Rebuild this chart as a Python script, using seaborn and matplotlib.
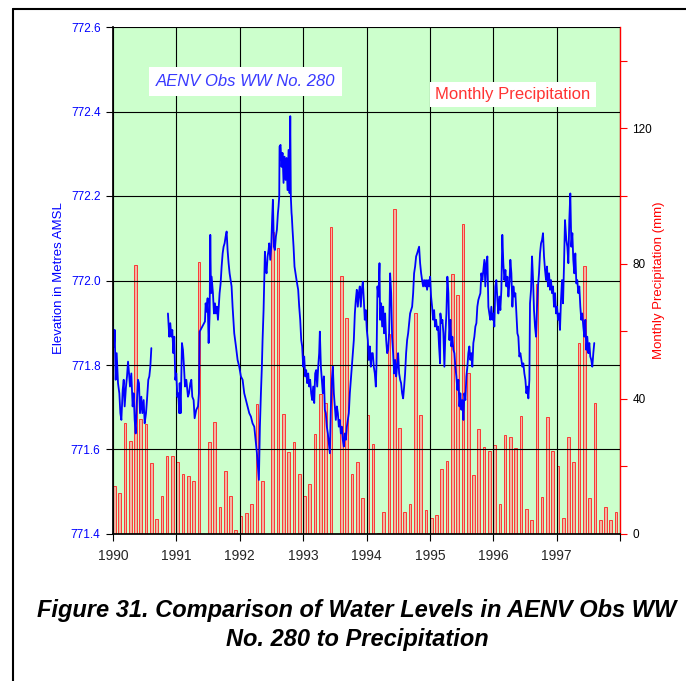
import numpy as np
import pandas as pd
import matplotlib
matplotlib.use('Agg')
import matplotlib.pyplot as plt
import seaborn as sns
from matplotlib.lines import Line2D

# --- data ---
# monthly precipitation (mm), Jan 1990 .. Dec 1997
precip_1990 = [14.2, 12.0, 32.7, 27.6, 79.7, 34.1, 32.4, 20.9, 4.3, 11.3, 23.2, 23.2]
precip_1991 = [21.2, 17.8, 17.3, 15.6, 80.6, 0.0, 27.2, 33.2, 7.9, 18.7, 11.3, 1.2]
precip_1992 = [5.3, 6.3, 8.9, 38.5, 15.6, 0.0, 89.4, 84.7, 35.5, 24.3, 27.2, 17.8]
precip_1993 = [11.3, 14.8, 29.6, 41.4, 38.7, 90.9, 0.0, 76.2, 63.8, 17.8, 21.2, 10.6]
precip_1994 = [35.3, 26.7, 0.4, 6.4, 59.3, 96.1, 31.3, 6.4, 8.9, 65.4, 35.3, 7.2]
precip_1995 = [4.7, 5.7, 19.2, 21.7, 77.0, 70.7, 91.7, 47.6, 17.5, 31.0, 25.7, 24.6]
precip_1996 = [26.2, 8.8, 29.3, 28.6, 25.4, 34.9, 7.3, 4.1, 74.0, 10.9, 34.7, 24.7]
precip_1997 = [20.2, 4.7, 28.6, 21.2, 56.5, 79.4, 10.6, 38.8, 4.0, 8.1, 4.1, 6.6]
years = [1990, 1991, 1992, 1993, 1994, 1995, 1996, 1997]

# water level record (decimal year, m AMSL); first run ends mid-1990 (gap in record)
run1 = [(1990.000, 771.891), (1990.016, 771.844), (1990.027, 771.883), (1990.042, 771.765),
        (1990.058, 771.828), (1990.079, 771.757), (1990.100, 771.733), (1990.116, 771.686),
        (1990.132, 771.670), (1990.153, 771.741), (1990.169, 771.765), (1990.184, 771.702),
        (1990.205, 771.749), (1990.221, 771.773), (1990.237, 771.808), (1990.253, 771.780),
        (1990.268, 771.749), (1990.289, 771.780), (1990.310, 771.702), (1990.326, 771.733),
        (1990.342, 771.670), (1990.358, 771.638), (1990.373, 771.702), (1990.394, 771.765),
        (1990.410, 771.757), (1990.426, 771.686), (1990.447, 771.725), (1990.463, 771.686),
        (1990.484, 771.717), (1990.500, 771.662), (1990.521, 771.686), (1990.536, 771.717),
        (1990.557, 771.765), (1990.573, 771.773), (1990.589, 771.796), (1990.605, 771.840)]

run2 = [(1990.867, 771.922), (1990.888, 771.867), (1990.904, 771.899), (1990.920, 771.867),
        (1990.936, 771.883), (1990.952, 771.828), (1990.967, 771.867), (1990.983, 771.765),
        (1990.999, 771.780), (1991.015, 771.725), (1991.030, 771.733), (1991.046, 771.686),
        (1991.052, 771.757), (1991.067, 771.686), (1991.088, 771.852), (1991.104, 771.836),
        (1991.120, 771.796), (1991.136, 771.749), (1991.157, 771.765), (1991.183, 771.725),
        (1991.199, 771.733), (1991.220, 771.757), (1991.236, 771.765), (1991.251, 771.725),
        (1991.272, 771.717), (1991.288, 771.674), (1991.314, 771.694), (1991.341, 771.702),
        (1991.356, 771.733), (1991.367, 771.879), (1991.451, 771.903), (1991.462, 771.946),
        (1991.477, 771.926), (1991.493, 771.958), (1991.509, 771.852), (1991.525, 771.922),
        (1991.535, 772.108), (1991.546, 771.970), (1991.556, 772.009), (1991.577, 771.970),
        (1991.593, 771.922), (1991.609, 771.946), (1991.624, 771.922), (1991.640, 771.938),
        (1991.656, 771.907), (1991.672, 771.946), (1991.682, 771.970), (1991.698, 771.993),
        (1991.714, 772.033), (1991.730, 772.064), (1991.745, 772.080), (1991.761, 772.088),
        (1991.777, 772.104), (1991.793, 772.116), (1991.808, 772.072), (1991.824, 772.041),
        (1991.840, 772.017), (1991.856, 772.001), (1991.871, 771.986), (1991.887, 771.938),
        (1991.913, 771.875), (1991.940, 771.844), (1991.966, 771.812), (1991.992, 771.796),
        (1992.018, 771.773), (1992.045, 771.765), (1992.071, 771.733), (1992.097, 771.717),
        (1992.123, 771.702), (1992.150, 771.686), (1992.176, 771.678), (1992.202, 771.662),
        (1992.229, 771.654), (1992.255, 771.615), (1992.271, 771.591), (1992.286, 771.559),
        (1992.302, 771.528), (1992.318, 771.654), (1992.334, 771.733), (1992.349, 771.796),
        (1992.360, 771.859), (1992.376, 771.930), (1992.386, 772.001), (1992.397, 772.068),
        (1992.407, 772.033), (1992.423, 772.017), (1992.439, 772.057), (1992.455, 772.072),
        (1992.465, 772.088), (1992.481, 772.049), (1992.497, 772.080), (1992.512, 772.151),
        (1992.523, 772.191), (1992.539, 772.080), (1992.554, 772.072), (1992.570, 772.104),
        (1992.586, 772.120), (1992.602, 772.159), (1992.612, 772.175), (1992.623, 772.199),
        (1992.628, 772.317), (1992.644, 772.321), (1992.660, 772.269), (1992.675, 772.302),
        (1992.691, 772.231), (1992.707, 772.293), (1992.723, 772.238), (1992.738, 772.290),
        (1992.754, 772.214), (1992.770, 772.309), (1992.786, 772.207), (1992.797, 772.389),
        (1992.806, 772.198), (1992.817, 772.160), (1992.822, 772.151), (1992.833, 772.120),
        (1992.849, 772.080), (1992.864, 772.033), (1992.880, 772.017), (1992.896, 772.001),
        (1992.922, 771.978), (1992.938, 771.938), (1992.954, 771.907), (1992.970, 771.859),
        (1992.985, 771.844), (1993.001, 771.796), (1993.017, 771.820), (1993.033, 771.773),
        (1993.048, 771.788), (1993.064, 771.757), (1993.080, 771.780), (1993.096, 771.749),
        (1993.111, 771.765), (1993.127, 771.733), (1993.143, 771.717), (1993.159, 771.749),
        (1993.175, 771.710), (1993.190, 771.780), (1993.206, 771.788), (1993.222, 771.749),
        (1993.238, 771.796), (1993.253, 771.828), (1993.264, 771.879), (1993.280, 771.796),
        (1993.295, 771.765), (1993.311, 771.733), (1993.327, 771.773), (1993.343, 771.694),
        (1993.358, 771.686), (1993.374, 771.654), (1993.390, 771.638), (1993.406, 771.615),
        (1993.422, 771.591), (1993.437, 771.694), (1993.453, 771.765), (1993.469, 771.796),
        (1993.485, 771.733), (1993.500, 771.702), (1993.516, 771.670), (1993.532, 771.702),
        (1993.548, 771.686), (1993.563, 771.654), (1993.579, 771.670), (1993.595, 771.638),
        (1993.611, 771.654), (1993.626, 771.623), (1993.642, 771.607), (1993.658, 771.638),
        (1993.674, 771.623), (1993.690, 771.654), (1993.705, 771.670), (1993.721, 771.686),
        (1993.737, 771.733), (1993.753, 771.765), (1993.768, 771.796), (1993.784, 771.828),
        (1993.800, 771.859), (1993.816, 771.922), (1993.831, 771.954), (1993.847, 771.978),
        (1993.863, 771.938), (1993.879, 771.970), (1993.894, 771.986), (1993.910, 771.938),
        (1993.926, 771.978), (1993.942, 771.997), (1993.958, 771.954), (1993.973, 771.907),
        (1993.989, 771.930), (1994.005, 771.883), (1994.021, 771.859), (1994.036, 771.812),
        (1994.052, 771.844), (1994.068, 771.796), (1994.084, 771.828), (1994.099, 771.828),
        (1994.115, 771.796), (1994.131, 771.780), (1994.147, 771.749), (1994.157, 771.796),
        (1994.173, 771.986), (1994.189, 771.962), (1994.205, 772.041), (1994.215, 771.907),
        (1994.231, 771.946), (1994.247, 771.891), (1994.263, 771.938), (1994.278, 771.875),
        (1994.294, 771.922), (1994.310, 771.859), (1994.326, 771.828), (1994.341, 771.836),
        (1994.357, 771.875), (1994.373, 772.017), (1994.389, 771.970), (1994.404, 771.867),
        (1994.420, 771.828), (1994.436, 771.780), (1994.452, 771.812), (1994.468, 771.773),
        (1994.483, 771.796), (1994.499, 771.828), (1994.515, 771.780), (1994.531, 771.765),
        (1994.546, 771.757), (1994.562, 771.733), (1994.578, 771.721), (1994.594, 771.749),
        (1994.609, 771.780), (1994.625, 771.828), (1994.641, 771.859), (1994.657, 771.875),
        (1994.672, 771.899), (1994.688, 771.922), (1994.704, 771.930), (1994.720, 771.938),
        (1994.736, 771.970), (1994.751, 772.017), (1994.767, 772.033), (1994.783, 772.057),
        (1994.799, 772.064), (1994.814, 772.072), (1994.830, 772.080), (1994.846, 772.041),
        (1994.862, 772.017), (1994.877, 772.001), (1994.893, 771.986), (1994.909, 772.001),
        (1994.925, 771.986), (1994.940, 772.001), (1994.956, 771.978), (1994.972, 772.001),
        (1994.988, 771.986), (1995.004, 772.009), (1995.019, 771.962), (1995.035, 771.938),
        (1995.051, 771.907), (1995.067, 771.930), (1995.082, 771.891), (1995.098, 771.907),
        (1995.114, 771.883), (1995.130, 771.891), (1995.145, 771.844), (1995.161, 771.804),
        (1995.166, 771.922), (1995.182, 771.899), (1995.198, 771.907), (1995.213, 771.875),
        (1995.229, 771.796), (1995.245, 771.875), (1995.261, 771.922), (1995.276, 772.009),
        (1995.292, 771.970), (1995.308, 771.859), (1995.324, 771.907), (1995.339, 771.844),
        (1995.355, 771.867), (1995.371, 771.836), (1995.387, 771.828), (1995.402, 771.796),
        (1995.418, 771.773), (1995.434, 771.741), (1995.450, 771.765), (1995.466, 771.702),
        (1995.481, 771.733), (1995.497, 771.694), (1995.513, 771.717), (1995.529, 771.670),
        (1995.544, 771.733), (1995.560, 771.717), (1995.576, 771.773), (1995.592, 771.796),
        (1995.607, 771.828), (1995.623, 771.844), (1995.639, 771.812), (1995.655, 771.828),
        (1995.670, 771.796), (1995.686, 771.852), (1995.702, 771.867), (1995.718, 771.891),
        (1995.734, 771.899), (1995.749, 771.938), (1995.765, 771.954), (1995.781, 771.962),
        (1995.797, 771.970), (1995.812, 772.017), (1995.828, 772.001), (1995.844, 772.025),
        (1995.860, 772.049), (1995.875, 771.986), (1995.891, 772.041), (1995.907, 772.057),
        (1995.923, 771.938), (1995.938, 771.922), (1995.954, 771.907), (1995.970, 771.938),
        (1995.986, 771.907), (1996.002, 771.922), (1996.017, 771.891), (1996.033, 771.986),
        (1996.049, 772.001), (1996.065, 771.954), (1996.080, 771.922), (1996.096, 771.962),
        (1996.112, 771.930), (1996.128, 771.978), (1996.143, 772.108), (1996.159, 772.041),
        (1996.176, 772.001), (1996.192, 772.025), (1996.207, 771.986), (1996.223, 772.009),
        (1996.239, 771.962), (1996.255, 771.993), (1996.270, 772.049), (1996.286, 772.017),
        (1996.302, 771.938), (1996.318, 771.986), (1996.333, 771.962), (1996.349, 771.970),
        (1996.365, 771.922), (1996.381, 771.875), (1996.396, 771.867), (1996.412, 771.820),
        (1996.428, 771.828), (1996.444, 771.812), (1996.460, 771.796), (1996.475, 771.804),
        (1996.491, 771.780), (1996.507, 771.765), (1996.523, 771.733), (1996.538, 771.749),
        (1996.554, 771.721), (1996.570, 771.765), (1996.580, 771.946), (1996.596, 771.978),
        (1996.612, 772.057), (1996.628, 772.001), (1996.643, 771.930), (1996.659, 771.891),
        (1996.675, 771.867), (1996.691, 771.938), (1996.706, 771.986), (1996.722, 772.017),
        (1996.738, 772.064), (1996.754, 772.088), (1996.770, 772.096), (1996.785, 772.112),
        (1996.801, 772.057), (1996.817, 772.025), (1996.833, 772.001), (1996.848, 772.033),
        (1996.864, 771.986), (1996.880, 772.017), (1996.896, 771.978), (1996.911, 772.001),
        (1996.927, 771.970), (1996.943, 771.986), (1996.959, 771.938), (1996.975, 771.970),
        (1996.990, 771.922), (1997.006, 771.938), (1997.022, 771.907), (1997.038, 771.922),
        (1997.053, 771.883), (1997.069, 771.954), (1997.085, 772.001), (1997.101, 771.946),
        (1997.116, 772.033), (1997.132, 772.143), (1997.153, 772.096), (1997.169, 772.080),
        (1997.185, 772.041), (1997.200, 772.143), (1997.216, 772.206), (1997.232, 772.080),
        (1997.248, 772.112), (1997.263, 772.049), (1997.279, 772.017), (1997.295, 772.064),
        (1997.311, 771.993), (1997.326, 772.001), (1997.342, 771.970), (1997.358, 771.986),
        (1997.374, 771.938), (1997.389, 771.907), (1997.405, 771.922), (1997.421, 771.891),
        (1997.437, 771.867), (1997.453, 771.907), (1997.468, 771.836), (1997.484, 771.867),
        (1997.500, 771.828), (1997.516, 771.852), (1997.531, 771.820), (1997.547, 771.812),
        (1997.563, 771.796), (1997.579, 771.828), (1997.594, 771.852)]

# --- build frames ---
precip = (precip_1990 + precip_1991 + precip_1992 + precip_1993 +
          precip_1994 + precip_1995 + precip_1996 + precip_1997)
month_start = np.array([y + m / 12 for y in years for m in range(12)])

levels = pd.DataFrame(
    [(t, h, 1) for t, h in run1] + [(t, h, 2) for t, h in run2],
    columns=['year', 'level', 'run'])

# --- figure ---
sns.set_theme(style='ticks')
plt.rcParams['font.family'] = ['Liberation Sans', 'DejaVu Sans']

W, H = 686, 681
fig = plt.figure(figsize=(W / 100, H / 100), dpi=100)
ax = fig.add_axes([113 / W, 1 - 534 / H, 507 / W, 507 / H])
ax2 = ax.twinx()

# precipitation axis sits behind, carries the green background
ax.set_zorder(2)
ax.patch.set_visible(False)
ax2.set_zorder(1)
ax2.patch.set_visible(True)
ax2.set_facecolor('#ccffcc')

ax2.bar(month_start, precip, width=0.042, align='edge',
        facecolor='#f2b4a2', edgecolor='#ff2020', linewidth=0.6)
ax2.set_ylim(0, 150)
ax2.set_yticks([0, 40, 80, 120])
ax2.set_yticks([20, 60, 100, 140], minor=True)
ax2.tick_params(axis='y', which='both', direction='out', length=5, width=0.8,
                colors='red', labelcolor='black', labelsize=8.5, pad=4)
ax2.set_ylabel('Monthly Precipitation (mm)', color='red', fontsize=9.5)
ax2.yaxis.set_label_coords(1.066, 0.5)
for s in ['top', 'left', 'bottom']:
    ax2.spines[s].set_visible(False)
ax2.spines['right'].set_color('red')
ax2.spines['right'].set_linewidth(1.0)

sns.lineplot(data=levels, x='year', y='level', units='run', estimator=None,
             sort=False, color='blue', linewidth=1.3, ax=ax)
ax.set_xlim(1990, 1998)
ax.set_ylim(771.4, 772.6)
ax.set_xticks(range(1990, 1999))
ax.set_xticklabels([str(y) for y in years] + [''])
ax.set_yticks(np.round(np.arange(771.4, 772.61, 0.2), 1))
ax.set_yticklabels(['%.1f' % v for v in np.arange(771.4, 772.61, 0.2)])
ax.grid(True, color='black', linewidth=0.8)
ax.tick_params(axis='both', direction='out', length=5, width=0.8, color='black')
ax.tick_params(axis='y', labelcolor='blue', labelsize=8.5, pad=4)
ax.tick_params(axis='x', labelsize=10, pad=6)
ax.set_xlabel('')
ax.set_ylabel('Elevation in Metres AMSL', color='blue', fontsize=9.5)
ax.yaxis.set_label_coords(-0.095, 0.505)
ax.spines['top'].set_visible(False)
ax.spines['right'].set_visible(False)
ax.spines['left'].set_color('black')
ax.spines['bottom'].set_color('black')

# labels inside the plot
fig.text(245.5 / W, 1 - 81.5 / H, 'AENV Obs WW No. 280', color='#3a3aff', fontsize=12,
         fontstyle='italic', ha='center', va='center',
         bbox=dict(facecolor='white', edgecolor='none', boxstyle='square,pad=0.4'))
fig.text(513 / W, 1 - 94 / H, 'Monthly Precipitation', color='#ff3333', fontsize=12,
         ha='center', va='center',
         bbox=dict(facecolor='white', edgecolor='none', boxstyle='square,pad=0.3'))

# caption
fig.text(357 / W, 1 - 625 / H,
         'Figure 31. Comparison of Water Levels in AENV Obs WW\nNo. 280 to Precipitation',
         ha='center', va='center', fontsize=17, fontweight='bold', fontstyle='italic',
         linespacing=1.3, color='black')

# page frame
fig.add_artist(Line2D([12.5 / W, 12.5 / W], [0, 1 - 8.5 / H], color='black', lw=1.5,
                      transform=fig.transFigure))
fig.add_artist(Line2D([12.5 / W, 1], [1 - 8.5 / H, 1 - 8.5 / H], color='black', lw=1.5,
                      transform=fig.transFigure))

fig.savefig('out.png', dpi=100)
